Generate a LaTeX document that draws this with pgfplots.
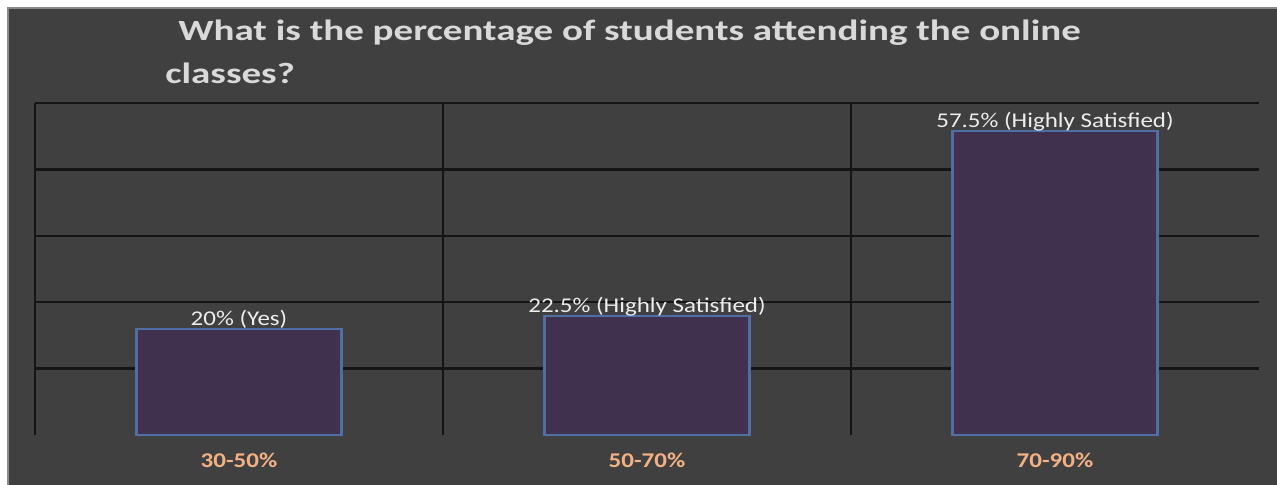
\documentclass[border=0pt]{standalone}
\usepackage{pgfplots}
\pgfplotsset{compat=1.18}
\usepackage{graphicx}
\usepackage{fontspec}
\setmainfont{Carlito}

\definecolor{panel}{HTML}{404040}
\definecolor{panelrim}{HTML}{8A8A8A}
\definecolor{barfill}{HTML}{40314F}
\definecolor{baredge}{HTML}{4F6EA3}
\definecolor{gridline}{HTML}{151515}
\definecolor{titletext}{HTML}{D9D9D9}
\definecolor{labeltext}{HTML}{EDEDED}
\definecolor{ticktext}{HTML}{F4B183}

% wide-set text, as in the chart's style
\newcommand\wide[1]{\scalebox{1.19}[1]{#1}}
\newcommand\widetitle[1]{\scalebox{1.33}[1]{#1}}

\begin{document}
\begin{tikzpicture}[x=0.75pt,y=0.75pt]
  % page and panel
  \fill[white] (0,0) rectangle (1277,485);
  \fill[panelrim] (7,0) rectangle (1277,478);
  \fill[panel] (9,0) rectangle (1277,476);

  % title, two lines
  \node[anchor=base west, inner sep=0pt, text=titletext,
        font=\fontsize{22}{26}\selectfont\bfseries]
        at (178,444) {\widetitle{What is the percentage of students attending the online}};
  \node[anchor=base west, inner sep=0pt, text=titletext,
        font=\fontsize{22}{26}\selectfont\bfseries]
        at (165,401) {\widetitle{classes?}};

  \begin{axis}[
      at={(26.25pt,37.5pt)}, anchor=south west,
      scale only axis,
      width=918pt, height=249pt,
      xmin=-0.5, xmax=2.5,
      ymin=0, ymax=62.8,
      ybar, bar width=153.75pt,
      axis line style={draw=none},
      major tick length=0pt,
      tick style={draw=none},
      xtick={0,1,2},
      xticklabels={\wide{30-50\%},\wide{50-70\%},\wide{70-90\%}},
      xticklabel style={text=ticktext, font=\fontsize{15.75}{18}\selectfont\bfseries,
                        anchor=base, yshift=-24pt, inner sep=0pt},
      extra x ticks={-0.5,0.5,1.5},
      extra x tick labels={},
      extra x tick style={grid=major},
      ytick={12.56,25.12,37.68,50.24,62.8},
      yticklabels={},
      ymajorgrids,
      grid style={draw=gridline, line width=1.7pt},
      major grid style={draw=gridline, line width=1.7pt},
      point meta=explicit symbolic,
      nodes near coords={\wide{\pgfplotspointmeta}},
      every node near coord/.append style={text=labeltext,
          font=\fontsize{15.75}{18}\selectfont, anchor=base, inner sep=0pt, yshift=3pt},
      clip=false,
    ]
    \addplot[fill=barfill, draw=baredge, line width=1.6pt] coordinates {
      (0,20)   [20\% (Yes)]
      (1,22.5) [22.5\% (Highly Satisfied)]
      (2,57.5) [57.5\% (Highly Satisfied)]
    };
  \end{axis}
\end{tikzpicture}
\end{document}
